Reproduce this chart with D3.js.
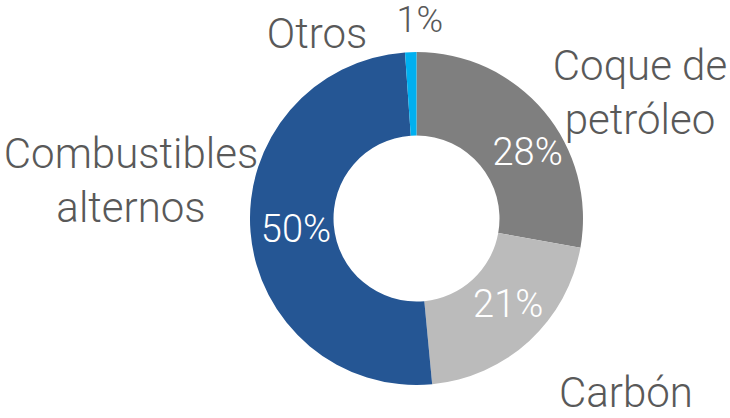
<!DOCTYPE html>
<html>
<head>
<meta charset="utf-8">
<script src="https://cdn.jsdelivr.net/npm/d3@7"></script>
<style>
  body { margin: 0; background: #fff; }
  text { font-family: "Roboto Light", Roboto, "Open Sans", sans-serif; font-weight: 300; }
</style>
</head>
<body>
<div id="chart"></div>
<script>
// data
const categories = ["Coque de petróleo", "Carbón", "Combustibles alternos", "Otros"];
const values = [27.8, 20.7, 50.4, 1.1];
const pctLabels = ["28%", "21%", "50%", "1%"];
const colors = ["#7f7f7f", "#bbbbbb", "#255694", "#00b0f0"];

const width = 730, height = 418;
const cx = 416.5, cy = 218.5;
const outerR = 166.5, innerR = 83;

const svg = d3.select("#chart").append("svg")
  .attr("width", width)
  .attr("height", height);

const g = svg.append("g")
  .attr("transform", "translate(" + cx + "," + cy + ")");

const pie = d3.pie().sort(null).value(d => d);
const arcs = pie(values);

const arc = d3.arc().innerRadius(innerR).outerRadius(outerR);
const labelArc = d3.arc().innerRadius(128).outerRadius(128);

g.selectAll("path.slice")
  .data(arcs)
  .enter().append("path")
  .attr("class", "slice")
  .attr("d", arc)
  .attr("fill", (d, i) => colors[i]);

// nudges for the inside labels (excel moved them a bit)
const pctNudge = [[13, 15], [5, -9], [7, 0]];

// percentage labels: inside the ring, except the tiny one
g.selectAll("text.pct")
  .data(arcs.filter((d, i) => i < 3))
  .enter().append("text")
  .attr("class", "pct")
  .attr("transform", d => {
    let c = labelArc.centroid(d);
    let n = pctNudge[d.index];
    return "translate(" + (c[0] + n[0]) + "," + (c[1] + n[1]) + ")";
  })
  .attr("text-anchor", "middle")
  .attr("dy", "0.35em")
  .attr("fill", "#ffffff")
  .attr("font-size", 38)
  .text((d) => pctLabels[d.index]);

// small slice label sits outside, above
const outArc = d3.arc().innerRadius(outerR + 30).outerRadius(outerR + 30);
const small = arcs[3];
const oc = outArc.centroid(small);
g.append("text")
  .attr("x", oc[0] + 10)
  .attr("y", oc[1] - 3)
  .attr("text-anchor", "middle")
  .attr("dy", "0.35em")
  .attr("fill", "#595959")
  .attr("font-size", 36)
  .text(pctLabels[3]);

// category labels (manually placed, like in the source chart)
const catLines = [["Coque de", "petróleo"], ["Carbón"], ["Combustibles", "alternos"], ["Otros"]];
const catPos = [[640, 80], [626, 407], [131, 168], [317, 48]];
const lineH = 54;

catLines.forEach((lines, i) => {
  let t = svg.append("text")
    .attr("text-anchor", "middle")
    .attr("fill", "#595959")
    .attr("font-size", 42);
  lines.forEach((l, j) => {
    t.append("tspan")
      .attr("x", catPos[i][0])
      .attr("y", catPos[i][1] + j * lineH)
      .text(l);
  });
});
</script>
</body>
</html>
